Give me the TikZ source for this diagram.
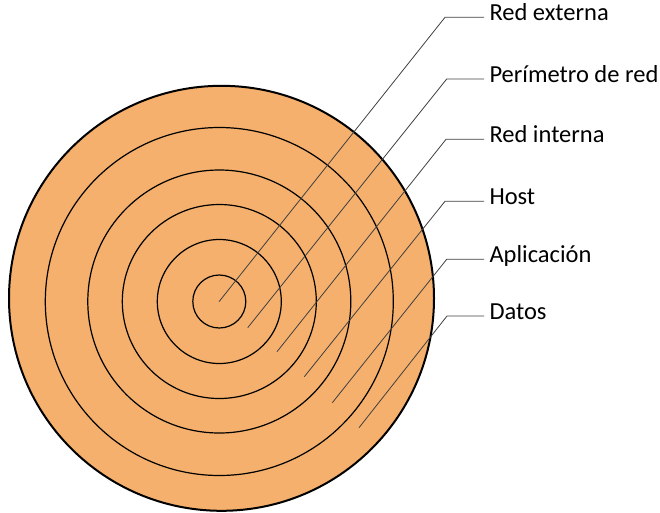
\documentclass[tikz,border=0pt]{standalone}
\usepackage{fontspec}
\setmainfont{Carlito}
\definecolor{ringfill}{HTML}{F4B06C}
\definecolor{leadgray}{HTML}{404040}
\begin{document}
\begin{tikzpicture}[x=1pt,y=-1pt,inner sep=0pt,outer sep=0pt,
ring/.style={draw=black,line width=1.2pt},
tag/.style={anchor=west,inner xsep=5.5pt,text height=0.644em,text depth=0pt,font=\fontsize{24.5}{29}\selectfont},
leader/.style={draw=leadgray,line width=0.8pt}]
\useasboundingbox (0,0) rectangle (660,512);

% rings
\draw[ring,fill=ringfill,line width=2pt] (221.5,298.3) circle[radius=212.5pt];
\foreach \r in {174,131.5,97,62,26.5}
  \draw[ring] (219.3,301.5) circle[radius=\r pt];

% labels
\draw (484,17.3) node[tag] (ext) {Red externa};
\draw (484,79) node[tag] (per) {Perímetro de red};
\draw (484,139.3) node[tag] (int) {Red interna};
\draw (484,201.3) node[tag] (host) {Host};
\draw (484,259.3) node[tag] (app) {Aplicación};
\draw (484,316) node[tag] (dat) {Datos};

\coordinate (p1) at (219,301.7);
\coordinate (p2) at (247.7,327.7);
\coordinate (p3) at (277,351.7);
\coordinate (p4) at (304.3,376.7);
\coordinate (p5) at (332.3,402.7);
\coordinate (p6) at (359,427.7);

\draw[leader] (p1) -- (445,17.3) -- (ext.west);
\draw[leader] (p2) -- (446.7,79) -- (per.west);
\draw[leader] (p3) -- (446,139.3) -- (int.west);
\draw[leader] (p4) -- (445,201.3) -- (host.west);
\draw[leader] (p5) -- (446.7,259.3) -- (app.west);
\draw[leader] (p6) -- (447,316) -- (dat.west);
\end{tikzpicture}
\end{document}
